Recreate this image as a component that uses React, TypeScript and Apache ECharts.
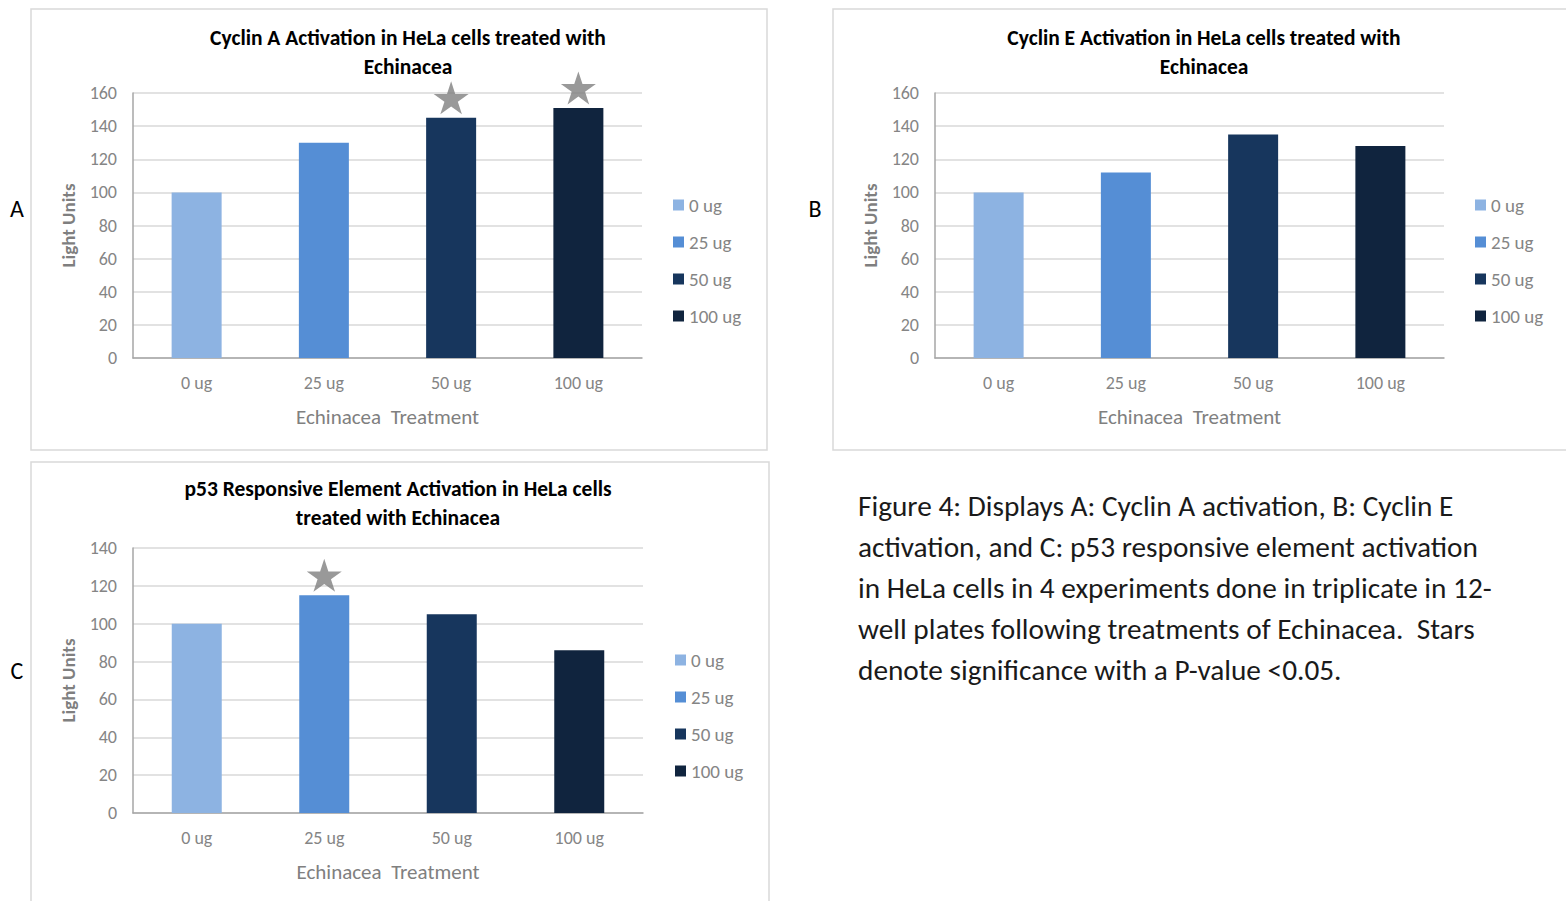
import React, { useEffect, useRef } from "react";
import * as echarts from "echarts";

const categories = ["0 ug", "25 ug", "50 ug", "100 ug"];
const colors = ["#8DB3E2", "#558ED5", "#17365D", "#10243E"];

const cyclinA = [100, 130, 145, 151];
const cyclinE = [100, 112, 135, 128];
const p53 = [100, 115, 105, 86];

const starsA = ["50 ug", "100 ug"];
const starsE: string[] = [];
const starsC = ["25 ug"];

const titleA = "Cyclin A Activation in HeLa cells treated with\nEchinacea";
const titleE = "Cyclin E Activation in HeLa cells treated with\nEchinacea";
const titleC = "p53 Responsive Element Activation in HeLa cells\ntreated with Echinacea";

const yNameText = "Light Units";
const xNameText = "Echinacea  Treatment";

const captionLines = [
  "Figure 4: Displays A: Cyclin A activation, B: Cyclin E",
  "activation, and C: p53 responsive element activation",
  "in HeLa cells in 4 experiments done in triplicate in 12-",
  "well plates following treatments of Echinacea.  Stars",
  "denote significance with a P-value <0.05.",
];

const FONT = "Carlito, 'Liberation Sans Narrow', 'Open Sans', sans-serif";
const STAR =
  "path://M50,0 L61.2,34.5 L97.6,34.5 L68.2,55.9 L79.4,90.5 L50,69.1 L20.6,90.5 L31.8,55.9 L2.4,34.5 L38.8,34.5 Z";

export default function App() {
  const ref = useRef<HTMLDivElement>(null);

  useEffect(() => {
    if (!ref.current) return;
    const chart = echarts.init(ref.current, undefined, { renderer: "svg" });

    const panels = [
      { values: cyclinA, stars: starsA, title: titleA, left: 133, top: 93, width: 509, height: 265, max: 160, titleX: 403, titleY: 18, legendX: 668, legendY: 190 },
      { values: cyclinE, stars: starsE, title: titleE, left: 935, top: 93, width: 509, height: 265, max: 160, titleX: 1199, titleY: 18, legendX: 1470, legendY: 190 },
      { values: p53, stars: starsC, title: titleC, left: 133, top: 548, width: 510, height: 265, max: 140, titleX: 393, titleY: 469, legendX: 670, legendY: 645 },
    ];

    const grid: any[] = [];
    const xAxis: any[] = [];
    const yAxis: any[] = [];
    const series: any[] = [];
    const legend: any[] = [];
    const title: any[] = [];

    panels.forEach((p, i) => {
      grid.push({ left: p.left, top: p.top, width: p.width, height: p.height, containLabel: false });
      title.push({
        text: p.title,
        left: p.titleX,
        top: p.titleY,
        textAlign: "center",
        textStyle: { fontFamily: FONT, fontSize: 21.5, fontWeight: "bold", color: "#000", lineHeight: 29 },
      });
      xAxis.push({
        type: "category",
        gridIndex: i,
        data: categories,
        axisTick: { show: false },
        axisLine: { lineStyle: { color: "#a6a6a6", width: 1.5 } },
        axisLabel: { color: "#858585", fontFamily: FONT, fontSize: 18, margin: 16 },
        name: xNameText,
        nameLocation: "middle",
        nameGap: 48,
        nameTextStyle: { color: "#808080", fontFamily: FONT, fontSize: 21, fontWeight: "normal" },
      });
      yAxis.push({
        type: "value",
        gridIndex: i,
        min: 0,
        max: p.max,
        interval: 20,
        axisLine: { show: true, lineStyle: { color: "#a6a6a6", width: 1.5 } },
        axisTick: { show: false },
        splitLine: { lineStyle: { color: "#d9d9d9", width: 1.5 } },
        axisLabel: { color: "#858585", fontFamily: FONT, fontSize: 18, margin: 16 },
        name: yNameText,
        nameLocation: "middle",
        nameRotate: 90,
        nameGap: 55,
        nameTextStyle: { color: "#7f7f7f", fontFamily: FONT, fontSize: 19, fontWeight: "bold" },
      });
      categories.forEach((c, j) => {
        series.push({
          type: "bar",
          name: c,
          xAxisIndex: i,
          yAxisIndex: i,
          barWidth: 50,
          barGap: "-100%",
          itemStyle: { color: colors[j] },
          data: p.values.map((v, k) => (k === j ? v : "-")),
        });
      });
      series.push({
        type: "scatter",
        name: "significance",
        xAxisIndex: i,
        yAxisIndex: i,
        symbol: STAR,
        symbolSize: [35, 33],
        symbolOffset: [0, -20],
        itemStyle: { color: "#7f7f7f" },
        data: p.stars.map((s) => [s, p.values[categories.indexOf(s)]]),
        z: 5,
      });
      legend.push({
        data: categories,
        orient: "vertical",
        left: p.legendX,
        top: p.legendY,
        icon: "rect",
        itemWidth: 11,
        itemHeight: 11,
        itemGap: 17,
        selectedMode: false,
        textStyle: { color: "#858585", fontFamily: FONT, fontSize: 19, lineHeight: 20 },
      });
    });

    const graphic: any[] = [
      { type: "rect", shape: { x: 31, y: 9, width: 736, height: 441 }, style: { fill: "none", stroke: "#d9d9d9", lineWidth: 1.5 }, z: -10 },
      { type: "rect", shape: { x: 833, y: 9, width: 745, height: 441 }, style: { fill: "none", stroke: "#d9d9d9", lineWidth: 1.5 }, z: -10 },
      { type: "rect", shape: { x: 31, y: 462, width: 738, height: 450 }, style: { fill: "none", stroke: "#d9d9d9", lineWidth: 1.5 }, z: -10 },
      { type: "text", x: 17, y: 208, style: { text: "A", fontFamily: FONT, fontSize: 24, fill: "#000", textAlign: "center", textVerticalAlign: "middle" } },
      { type: "text", x: 815, y: 208, style: { text: "B", fontFamily: FONT, fontSize: 24, fill: "#000", textAlign: "center", textVerticalAlign: "middle" } },
      { type: "text", x: 17, y: 670, style: { text: "C", fontFamily: FONT, fontSize: 24, fill: "#000", textAlign: "center", textVerticalAlign: "middle" } },
      {
        type: "text",
        x: 858,
        y: 485,
        style: { text: captionLines.join("\n"), fontFamily: FONT, fontSize: 29.3, lineHeight: 41.2, fill: "#1a1a1a" },
      },
    ];

    chart.setOption({
      animation: false,
      backgroundColor: "#ffffff",
      title,
      grid,
      xAxis,
      yAxis,
      legend,
      series,
      graphic,
    });

    return () => chart.dispose();
  }, []);

  return <div ref={ref} style={{ position: "fixed", left: 0, top: 0, width: 1566, height: 901 }} />;
}
